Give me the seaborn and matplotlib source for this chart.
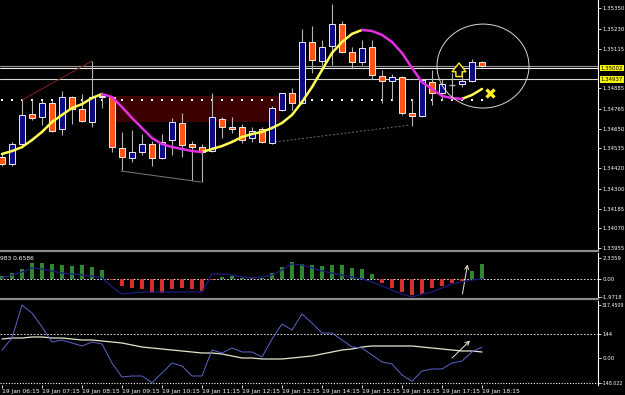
import numpy as np
import pandas as pd
import matplotlib
matplotlib.use("Agg")
import matplotlib.pyplot as plt
import seaborn as sns
from matplotlib.patches import Rectangle, Ellipse

# ==========================================
# DATA  (15 min candles, 19 Jan 06:15 - 18:15)
# ==========================================

opens = [1.34485, 1.34445, 1.34561, 1.34735, 1.34718, 1.34799, 1.34648, 1.34834, 1.34764, 1.34689,
         1.34840, 1.34834, 1.34538, 1.34480, 1.34514, 1.34561, 1.34480, 1.34584, 1.34683, 1.34561,
         1.34543, 1.34520, 1.34706, 1.34660, 1.34660, 1.34596, 1.34648, 1.34567, 1.34759, 1.34857,
         1.34799, 1.35154, 1.35043, 1.35131, 1.35258, 1.35096, 1.35038, 1.35125, 1.34956, 1.34927,
         1.34950, 1.34741, 1.34724, 1.34921, 1.34857, 1.34904, 1.34910, 1.34927, 1.35038]
highs = [1.34509, 1.34573, 1.34817, 1.34817, 1.34817, 1.34817, 1.34869, 1.34840, 1.34852, 1.35043,
         1.34852, 1.34840, 1.34631, 1.34642, 1.34619, 1.34578, 1.34619, 1.34712, 1.34741, 1.34578,
         1.34561, 1.34857, 1.34718, 1.34718, 1.34677, 1.34660, 1.34660, 1.34782, 1.34857, 1.34886,
         1.35229, 1.35247, 1.35165, 1.35375, 1.35276, 1.35125, 1.35165, 1.35165, 1.34991, 1.34968,
         1.34956, 1.34823, 1.34939, 1.34991, 1.34939, 1.34974, 1.35003, 1.35055, 1.35043]
lows = [1.34433, 1.34433, 1.34555, 1.34700, 1.34671, 1.34631, 1.34613, 1.34677, 1.34689, 1.34660,
        1.34770, 1.34514, 1.34410, 1.34456, 1.34497, 1.34433, 1.34474, 1.34497, 1.34485, 1.34352,
        1.34340, 1.34514, 1.34596, 1.34625, 1.34567, 1.34573, 1.34567, 1.34561, 1.34753, 1.34759,
        1.34793, 1.34974, 1.35020, 1.35020, 1.35090, 1.35003, 1.35020, 1.34939, 1.34799, 1.34817,
        1.34730, 1.34666, 1.34718, 1.34788, 1.34817, 1.34823, 1.34892, 1.34921, 1.35009]
closes = [1.34445, 1.34561, 1.34730, 1.34712, 1.34799, 1.34636, 1.34834, 1.34764, 1.34695, 1.34834,
          1.34834, 1.34543, 1.34485, 1.34514, 1.34561, 1.34480, 1.34573, 1.34689, 1.34555, 1.34543,
          1.34514, 1.34718, 1.34660, 1.34648, 1.34584, 1.34636, 1.34573, 1.34770, 1.34857, 1.34799,
          1.35154, 1.35049, 1.35125, 1.35258, 1.35096, 1.35038, 1.35119, 1.34962, 1.34927, 1.34950,
          1.34741, 1.34724, 1.34933, 1.34857, 1.34910, 1.34904, 1.34927, 1.35038, 1.35014]

ma_line = [1.34503, 1.34520, 1.34543, 1.34584, 1.34631, 1.34689, 1.34730, 1.34770, 1.34793, 1.34828,
           1.34852, 1.34834, 1.34776, 1.34712, 1.34654, 1.34596, 1.34561, 1.34543, 1.34532, 1.34520,
           1.34514, 1.34532, 1.34549, 1.34573, 1.34602, 1.34619, 1.34631, 1.34654, 1.34683, 1.34730,
           1.34805, 1.34892, 1.34991, 1.35090, 1.35154, 1.35201, 1.35224, 1.35218, 1.35195, 1.35154,
           1.35090, 1.35003, 1.34921, 1.34881, 1.34840, 1.34828, 1.34823, 1.34846, 1.34881]

hist_vals = [0.33, 0.70, 1.10, 1.77, 1.77, 1.66, 1.55, 1.47, 1.55, 1.33,
             0.99, -0.08, -0.77, -0.99, -1.11, -1.55, -1.51, -1.11, -0.99, -1.11,
             -1.33, -0.15, 0.20, 0.35, 0.15, 0.15, 0.15, 0.66, 1.33, 1.88,
             1.66, 1.55, 1.47, 1.55, 1.55, 1.22, 1.10, 0.55, -0.44, -0.99,
             -1.44, -1.77, -1.66, -0.99, -0.77, -0.44, -0.22, 0.88, 1.66]
signal_vals = [0.11, 0.44, 0.77, 1.22, 1.10, 0.88, 0.66, 0.55, 0.44, 0.33,
               0.11, -0.88, -1.66, -1.55, -1.44, -1.44, -1.44, -1.44, -1.44, -1.44,
               -1.44, 0.55, 0.55, 0.44, 0.22, 0.11, 0.22, 0.44, 0.99, 1.66,
               1.55, 1.22, 0.88, 0.66, 0.44, 0.22, 0.00, -0.33, -0.77, -1.22,
               -1.66, -1.99, -1.66, -1.44, -0.99, -0.55, -0.33, -0.11, 0.00]

osc_blue = [48, 120, 317, 270, 186, 96, 108, 90, 72, 96,
            84, -30, -114, -108, -108, -148, -90, -30, -48, -108,
            -108, 48, 30, 60, 36, 36, 6, 114, 204, 168,
            264, 210, 150, 150, 108, 66, 60, 18, -24, -36,
            -102, -140, -78, -66, -66, -30, -18, 36, 66]
osc_white = [114, 120, 120, 126, 126, 120, 120, 114, 108, 108,
             102, 96, 90, 78, 66, 60, 54, 48, 42, 36,
             30, 30, 24, 12, 0, 0, -6, -6, -6, 0,
             6, 12, 24, 36, 48, 54, 66, 72, 72, 72,
             72, 72, 66, 60, 54, 48, 42, 42, 36]

price_ticks = [1.35350, 1.35230, 1.35115, 1.34885, 1.34765, 1.34650,
               1.34535, 1.34420, 1.34300, 1.34185, 1.34070, 1.33955]
marked_prices = [1.35002, 1.34937]
time_labels = ["19 Jan 06:15", "19 Jan 07:15", "19 Jan 08:15", "19 Jan 09:15",
               "19 Jan 10:15", "19 Jan 11:15", "19 Jan 12:15", "19 Jan 13:15",
               "19 Jan 14:15", "19 Jan 15:15", "19 Jan 16:15", "19 Jan 17:15",
               "19 Jan 18:15"]

idx = np.arange(len(opens))

# ==========================================
# FIGURE
# ==========================================

sns.set_theme(style="dark", rc={
    "axes.facecolor": "black",
    "figure.facecolor": "black",
    "axes.edgecolor": "white",
    "text.color": "white",
    "xtick.color": "white",
    "ytick.color": "white",
})
plt.rcParams['font.family'] = ['DejaVu Sans']

fig = plt.figure(figsize=(6.25, 3.95), dpi=100)
ax = fig.add_axes([0, 0.36456, 0.9568, 0.63544])
ax_h = fig.add_axes([0, 0.24304, 0.9568, 0.11646], sharex=ax)
ax_o = fig.add_axes([0, 0.02532, 0.9568, 0.21266], sharex=ax)

GRAY = "#8c8c8c"
TICK_FS = 3.9
for a in (ax, ax_h, ax_o):
    a.set_facecolor("black")
    a.grid(False)
    for s in a.spines.values():
        s.set_visible(False)
    a.spines["right"].set_visible(True)
    a.spines["right"].set_color("white")
    a.spines["right"].set_linewidth(0.8)
    a.yaxis.tick_right()
    a.tick_params(axis="y", length=2, width=0.6, pad=1.0, labelsize=TICK_FS, colors="white")
ax.spines["bottom"].set_visible(True)
ax.spines["bottom"].set_color(GRAY)
ax.spines["bottom"].set_linewidth(1.6)
ax_h.spines["bottom"].set_visible(True)
ax_h.spines["bottom"].set_color(GRAY)
ax_h.spines["bottom"].set_linewidth(1.6)

# ------------------------------------------
# MAIN PRICE PANEL
# ------------------------------------------

# maroon zone
ax.add_patch(Rectangle((11.0, 1.34689), 16.8, 1.34840 - 1.34689,
                       facecolor="#3c0000", edgecolor="none", zorder=1))

# horizontal levels
ax.axhline(1.35012, color="#9a9a9a", lw=0.8, zorder=2)
ax.axhline(1.35002, color="#f0f0f0", lw=0.8, zorder=2)
ax.axhline(1.34937, color="#d8d8d8", lw=0.8, zorder=2)

# dotted level
ax.scatter(idx, [1.34817] * len(idx), s=2.5, marker="s", color="white",
           linewidths=0, zorder=2)

# trend lines
ax.plot([2.0, 9.0], [1.34817, 1.35043], color="#8b2020", lw=0.7, zorder=2)
ax.plot([11.9, 19.9], [1.34404, 1.34340], color="#6f7f6f", lw=0.7, zorder=2)
ax.plot([27.3, 40.8], [1.34573, 1.34671], color="#707070", lw=0.7, ls=(0, (2, 2)), zorder=2)

# candles
for i in idx:
    o, h, l, c = opens[i], highs[i], lows[i], closes[i]
    ax.vlines(i, l, h, color="#b4b4b4", lw=0.8, zorder=3)
    if o == c:
        ax.hlines(o, i - 0.3, i + 0.3, color="#b4b4b4", lw=0.9, zorder=4)
        continue
    face = "#0b0b88" if c > o else "#ff5414"
    ax.add_patch(Rectangle((i - 0.3, min(o, c)), 0.6, abs(c - o),
                           facecolor=face, edgecolor="#eeeeee", lw=0.7, zorder=4))

# moving average, yellow up / magenta down
seg_rows = []
for i in range(len(ma_line) - 1):
    d = "up" if ma_line[i + 1] >= ma_line[i] else "down"
    seg_rows.append({"x": i, "y": ma_line[i], "dir": d, "seg": i})
    seg_rows.append({"x": i + 1, "y": ma_line[i + 1], "dir": d, "seg": i})
ma_df = pd.DataFrame(seg_rows)
sns.lineplot(data=ma_df, x="x", y="y", hue="dir", units="seg", estimator=None,
             palette={"up": "#ffff55", "down": "#e030e0"}, lw=1.8,
             legend=False, ax=ax, zorder=5)

# annotations
ax.add_patch(Ellipse((48.1, 1.35014), 9.2, 0.00488, fill=False,
                     edgecolor="#d8d8c8", lw=0.7, zorder=6))
ax.annotate("", xy=(45.7, 1.35048), xytext=(45.7, 1.34937),
            arrowprops=dict(arrowstyle="simple,head_length=0.7,head_width=1.1,tail_width=0.5",
                            fc="black", ec="#ffee22", lw=1.0, mutation_scale=9),
            zorder=6)
ax.plot(48.8, 1.34857, marker="x", color="#ffee22", ms=6, mew=2.4, zorder=6)

ax.set_xlim(-0.2, 59.6)
ax.set_ylim(1.33939, 1.35398)
ax.set_yticks(price_ticks)
ax.set_yticklabels([f"{p:.5f}" for p in price_ticks])
ax.set_xlabel("")
ax.set_ylabel("")
ax.tick_params(axis="x", bottom=False, labelbottom=False)

tr = ax.get_yaxis_transform()
for p in marked_prices:
    ax.text(1.0045, p, f"{p:.5f}", transform=tr, fontsize=TICK_FS, color="black",
            va="center", ha="left", clip_on=False,
            bbox=dict(boxstyle="square,pad=0.15", fc="#f5f500", ec="none"))

# ------------------------------------------
# HISTOGRAM PANEL
# ------------------------------------------

hist_df = pd.DataFrame({"x": idx, "v": hist_vals,
                        "sign": ["pos" if v >= 0 else "neg" for v in hist_vals]})
sns.barplot(data=hist_df, x="x", y="v", hue="sign", native_scale=True, dodge=False,
            palette={"pos": "#1f951f", "neg": "#f01414"}, width=0.45,
            errorbar=None, legend=False, ax=ax_h, zorder=3,
            linewidth=0, edgecolor="none")
sns.lineplot(x=idx, y=signal_vals, color="#1c1c80", lw=0.9, ax=ax_h, zorder=4)
ax_h.axhline(0, color="white", lw=0.6, ls=(0, (2, 2)), zorder=2)
ax_h.annotate("", xy=(46.6, 1.9), xytext=(46.0, -1.95),
              arrowprops=dict(arrowstyle="->", color="#e8e8d8", lw=0.7, mutation_scale=7))
ax_h.text(0.0, 0.93, "983 0.6586", transform=ax_h.transAxes, fontsize=4.3,
          color="white", va="top", ha="left")
ax_h.set_ylim(-2.21, 2.87)
ax_h.set_yticks([2.3359, 0.0, -1.9718])
ax_h.set_yticklabels(["2.3359", "0.00", "-1.9718"])
ax_h.set_xlabel("")
ax_h.set_ylabel("")
ax_h.tick_params(axis="x", bottom=False, labelbottom=False)

# ------------------------------------------
# OSCILLATOR PANEL
# ------------------------------------------

sns.lineplot(x=idx, y=osc_white, color="#e6e6cf", lw=0.9, ax=ax_o, zorder=3)
sns.lineplot(x=idx, y=osc_blue, color="#5a66c8", lw=0.7, ax=ax_o, zorder=4)
ax_o.axhline(144, color="white", lw=0.6, ls=(0, (2, 2)), zorder=2)
ax_o.axhline(-150, color="white", lw=0.8, ls=(0, (1, 1.5)), zorder=2)
ax_o.annotate("", xy=(47.0, 116), xytext=(44.8, -12),
              arrowprops=dict(arrowstyle="->", color="#e8e8cc", lw=0.7, mutation_scale=7))
ax_o.set_ylim(-162, 342)
ax_o.set_yticks([317.4509, 144, 0, -148.022])
ax_o.set_yticklabels(["317.4509", "144", "0.00", "-148.022"])
for lbl in ax_o.get_yticklabels():
    if len(lbl.get_text()) > 7:
        lbl.set_fontsize(3.4)
ax_o.set_xlabel("")
ax_o.set_ylabel("")

ax_o.set_xticks(np.arange(0, len(idx), 4))
ax_o.set_xticklabels(time_labels, ha="left")
ax_o.tick_params(axis="x", bottom=True, labelbottom=True, length=2.5, width=0.6,
                 pad=0.5, labelsize=4.3, colors="white", direction="out")
ax_o.set_xlim(-0.2, 59.6)

fig.savefig("out.png", dpi=100, facecolor="black")
